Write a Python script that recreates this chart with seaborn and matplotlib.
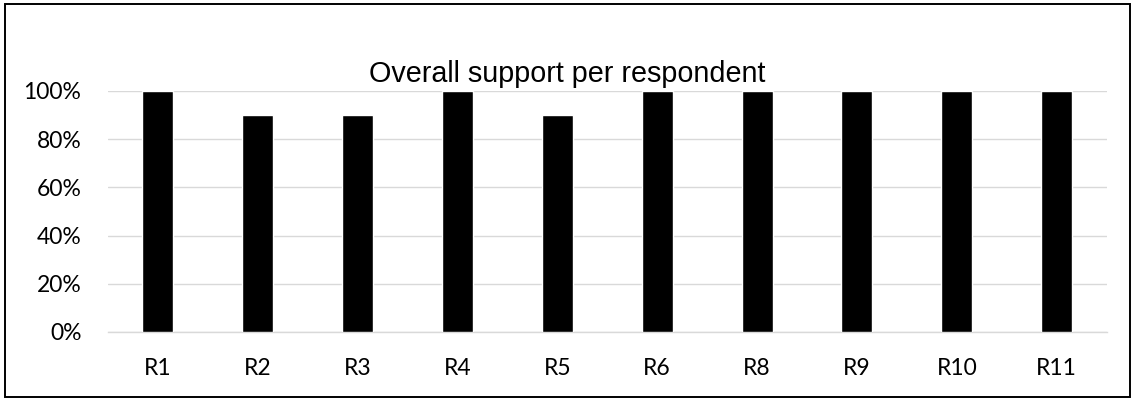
import matplotlib
matplotlib.use("Agg")
import matplotlib.pyplot as plt
import matplotlib.patches as mpatches
from matplotlib.ticker import PercentFormatter
import seaborn as sns
import pandas as pd

respondents = ["R1", "R2", "R3", "R4", "R5", "R6", "R8", "R9", "R10", "R11"]
support = [1.00, 0.90, 0.90, 1.00, 0.90, 1.00, 1.00, 1.00, 1.00, 1.00]
y_ticks = [0, 0.2, 0.4, 0.6, 0.8, 1.0]

df = pd.DataFrame({"respondent": respondents, "support": support})

sns.set_theme(style="white")
plt.rcParams["font.family"] = ["Lato", "DejaVu Sans"]

fig = plt.figure(figsize=(11.35, 4.0), dpi=100)
ax = fig.add_axes([0.095, 0.17, 0.88, 0.6025])

sns.barplot(data=df, x="respondent", y="support", color="black",
            width=0.31, saturation=1, ax=ax, zorder=3)

ax.set_ylim(0, 1.0)
ax.set_yticks(y_ticks)
ax.yaxis.set_major_formatter(PercentFormatter(xmax=1, decimals=0))
ax.grid(axis="y", color="#d9d9d9", linewidth=1.0, zorder=0)
ax.set_axisbelow(True)
for side in ["top", "right", "left"]:
    ax.spines[side].set_visible(False)
ax.spines["bottom"].set_color("#d9d9d9")
ax.spines["bottom"].set_linewidth(1.0)
ax.tick_params(axis="both", length=0, labelsize=16.5, colors="black")
ax.tick_params(axis="x", pad=19)
ax.tick_params(axis="y", pad=19)
ax.set_xlabel("")
ax.set_ylabel("")

fig.text(0.5, 0.815, "Overall support per respondent", ha="center", va="center",
         fontsize=20.7, family=["Liberation Sans", "DejaVu Sans"], color="black")

border = mpatches.Rectangle((0.0045, 0.008), 0.991, 0.982, transform=fig.transFigure,
                            fill=False, edgecolor="black", linewidth=1.4)
fig.patches.append(border)

fig.savefig("out.png", dpi=100)
